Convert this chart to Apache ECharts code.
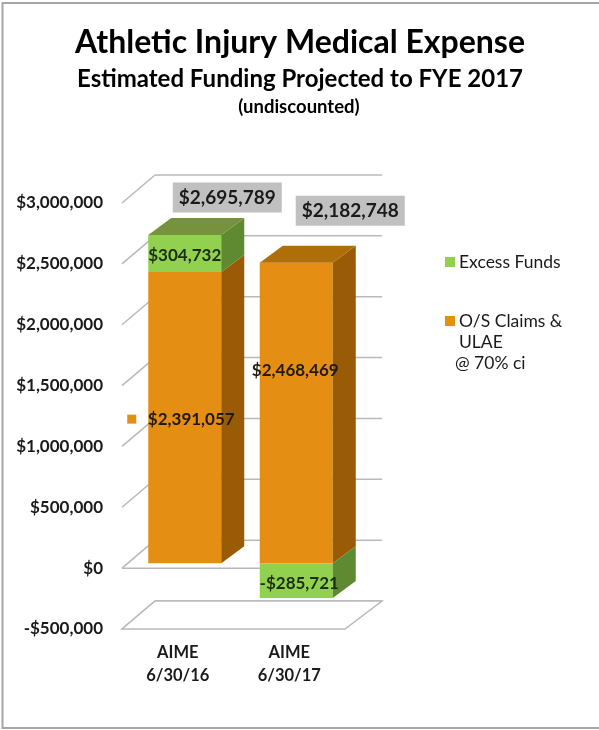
<!DOCTYPE html>
<html>
<head>
<meta charset="utf-8">
<script src="https://cdn.jsdelivr.net/npm/echarts@6/dist/echarts.min.js"></script>
<style>
  html, body { margin: 0; padding: 0; background: #ffffff; }
  #chart { width: 599px; height: 730px; }
</style>
</head>
<body>
<div id="chart"></div>
<script>
// ---- data ----
const categories = ['AIME\n6/30/16', 'AIME\n6/30/17'];
const claims = [2391057, 2468469];   // O/S Claims & ULAE @ 70% ci
const excess = [304732, -285721];    // Excess Funds
const yTicks = [-500000, 0, 500000, 1000000, 1500000, 2000000, 2500000, 3000000];
const legendNames = ['Excess Funds', 'O/S Claims &', 'ULAE', '@ 70% ci'];

// ---- derived ----
const totals = claims.map((c, i) => c + excess[i]);
const stackTop = claims.map((c, i) => c + Math.max(excess[i], 0));

// ---- styling ----
const FONT = 'Lato, "Open Sans", sans-serif';
const TXT = '#1a1a1a';
const GRID_LINE = '#b9b9b9';
const PALETTE = {
  claims: { front: '#e48e14', side: '#9a5b06', top: '#b06e08', text: '#1f1a12' },
  excess: { front: '#92d050', side: '#5f8a31', top: '#76923c', text: '#1c2e12' }
};
const BAR = { left: -29.5, width: 73, lift: -5, dx: 23, dy: -17 };
const WALL = { dx: 33, dy: -28, extra: 4 };
// label offsets from the centre of each segment's front face
const labelOffset = {
  claims: [[6.5, 2], [-1, -42]],
  excess: [[0, 2], [3, 3]]
};
const totalOffset = [[42.5, -37.5], [54, -52]];

function money(v) {
  const s = '$' + Math.abs(v).toLocaleString('en-US');
  return v < 0 ? '-' + s : s;
}

function segmentRenderer(key) {
  const pal = PALETTE[key];
  return function (params, api) {
    const i = api.value(0);
    const from = api.value(1);
    const to = api.value(2);
    const val = api.value(3);
    const center = api.coord([i, 0])[0];
    const xL = center + BAR.left;
    const xR = xL + BAR.width;
    const yTop = api.coord([i, to])[1] + BAR.lift;
    const yBot = api.coord([i, from])[1] + BAR.lift;
    const children = [];
    children.push({
      type: 'rect',
      shape: { x: xL, y: yTop, width: BAR.width, height: yBot - yTop },
      style: { fill: pal.front }
    });
    children.push({
      type: 'polygon',
      shape: { points: [[xR, yTop], [xR + BAR.dx, yTop + BAR.dy], [xR + BAR.dx, yBot + BAR.dy], [xR, yBot]] },
      style: { fill: pal.side }
    });
    if (to === stackTop[i]) {
      children.push({
        type: 'polygon',
        shape: { points: [[xL, yTop], [xR, yTop], [xR + BAR.dx, yTop + BAR.dy], [xL + BAR.dx, yTop + BAR.dy]] },
        style: { fill: pal.top }
      });
    }
    const off = labelOffset[key][i];
    const lx = (xL + xR) / 2 + off[0];
    const ly = (yTop + yBot) / 2 + off[1];
    children.push({
      type: 'text',
      style: {
        x: lx, y: ly, text: money(val),
        font: 'bold 17px ' + FONT, fill: pal.text,
        align: 'center', verticalAlign: 'middle'
      },
      z2: 5
    });
    if (key === 'claims' && i === 0) {
      // series key beside the label
      children.push({
        type: 'rect',
        shape: { x: lx - 64, y: ly - 5, width: 9, height: 9 },
        style: { fill: pal.front },
        z2: 5
      });
    }
    if (to === stackTop[i]) {
      const t = totalOffset[i];
      children.push({
        type: 'text',
        style: {
          x: (xL + xR) / 2 + t[0], y: yTop + t[1],
          text: money(totals[i]),
          font: 'bold 19px ' + FONT, fill: TXT,
          align: 'center', verticalAlign: 'middle',
          backgroundColor: '#c0c0c0', padding: [6, 6, 5, 6]
        },
        z2: 6
      });
    }
    return { type: 'group', children: children };
  };
}

function wallRenderer(params, api) {
  const cs = params.coordSys;
  const v = api.value(0);
  const y = api.coord([0, v])[1];
  const bx = cs.x + WALL.dx;
  const by = y + WALL.dy;
  const line = { stroke: GRID_LINE, lineWidth: 1.5 };
  const children = [
    { type: 'line', shape: { x1: cs.x, y1: y, x2: bx, y2: by }, style: line },
    { type: 'line', shape: { x1: bx, y1: by, x2: cs.x + cs.width + WALL.dx + WALL.extra, y2: by }, style: line }
  ];
  if (v === 0) {
    children.push({ type: 'line', shape: { x1: cs.x, y1: y, x2: cs.x + cs.width, y2: y }, style: line });
  }
  if (v === yTicks[0]) {
    children.push({
      type: 'polygon',
      shape: { points: [[cs.x, y], [cs.x + cs.width, y], [cs.x + cs.width + WALL.dx + WALL.extra, by], [bx, by]] },
      style: { fill: '#ffffff', stroke: GRID_LINE, lineWidth: 1.5 }
    });
  }
  return { type: 'group', children: children };
}

const claimsData = claims.map((c, i) => [i, 0, c, c]);
const excessData = excess.map((e, i) => e >= 0 ? [i, claims[i], claims[i] + e, e] : [i, e, 0, e]);

const chart = echarts.init(document.getElementById('chart'), null, { renderer: 'canvas' });
chart.setOption({
  backgroundColor: '#ffffff',
  animation: false,
  grid: { left: 122, right: 254, top: 203, bottom: 101 },
  xAxis: {
    type: 'category',
    data: categories,
    axisLine: { show: false },
    axisTick: { show: false },
    axisLabel: { fontFamily: FONT, fontWeight: 'bold', fontSize: 16.5, color: TXT, lineHeight: 23, margin: 12 }
  },
  yAxis: {
    type: 'value',
    min: yTicks[0],
    max: yTicks[yTicks.length - 1],
    interval: 500000,
    splitLine: { show: false },
    axisLine: { show: false },
    axisTick: { show: false },
    axisLabel: {
      fontFamily: FONT, fontWeight: 'bold', fontSize: 17, color: TXT, margin: 19,
      padding: [5, 0, 0, 0],
      formatter: money
    }
  },
  graphic: [
    { type: 'rect', shape: { x: 2.5, y: 3, width: 640, height: 725 }, style: { fill: 'none', stroke: '#a6a6a6', lineWidth: 2 }, silent: true },
    { type: 'text', style: { x: 300, y: 43, text: 'Athletic Injury Medical Expense', font: 'bold 32px ' + FONT, fill: '#000', align: 'center', verticalAlign: 'middle' } },
    { type: 'text', style: { x: 300, y: 79, text: 'Estimated Funding Projected to FYE 2017', font: 'bold 24px ' + FONT, fill: '#000', align: 'center', verticalAlign: 'middle' } },
    { type: 'text', style: { x: 299, y: 107, text: '(undiscounted)', font: 'bold 18.5px ' + FONT, fill: '#000', align: 'center', verticalAlign: 'middle' } },
    { type: 'rect', shape: { x: 445, y: 257, width: 10, height: 10 }, style: { fill: PALETTE.excess.front } },
    { type: 'text', style: { x: 459, y: 262, text: legendNames[0], font: '17.5px ' + FONT, fill: TXT, verticalAlign: 'middle' } },
    { type: 'rect', shape: { x: 445, y: 316, width: 10, height: 10 }, style: { fill: PALETTE.claims.front } },
    { type: 'text', style: { x: 459, y: 321, text: legendNames[1], font: '17.5px ' + FONT, fill: TXT, verticalAlign: 'middle' } },
    { type: 'text', style: { x: 459, y: 342, text: legendNames[2], font: '17.5px ' + FONT, fill: TXT, verticalAlign: 'middle' } },
    { type: 'text', style: { x: 455, y: 363, text: legendNames[3], font: '17.5px ' + FONT, fill: TXT, verticalAlign: 'middle' } }
  ],
  series: [
    { type: 'custom', name: 'walls', z: 1, clip: false, data: yTicks.map(v => [v]), renderItem: wallRenderer, encode: { y: 0 } },
    { type: 'custom', name: 'O/S Claims & ULAE @ 70% ci', z: 2, clip: false, data: claimsData, renderItem: segmentRenderer('claims'), encode: { x: 0, y: [1, 2] } },
    { type: 'custom', name: 'Excess Funds', z: 3, clip: false, data: excessData, renderItem: segmentRenderer('excess'), encode: { x: 0, y: [1, 2] } }
  ]
});
</script>
</body>
</html>
